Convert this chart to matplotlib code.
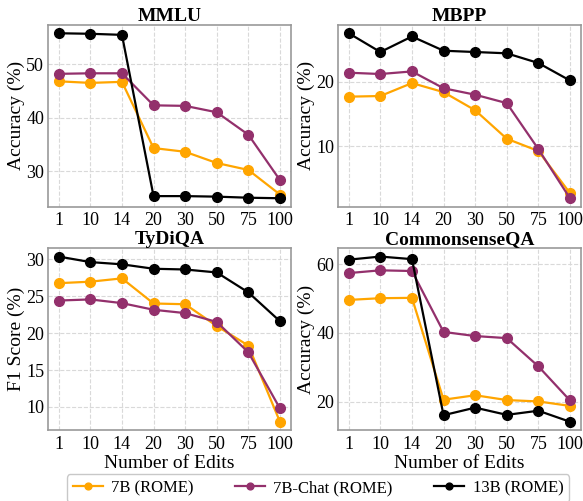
import matplotlib
matplotlib.use("Agg")
import matplotlib.pyplot as plt

plt.rcParams['font.family'] = ['Liberation Serif', 'DejaVu Serif']

edits = ["1", "10", "14", "20", "30", "50", "75", "100"]
series_names = ["7B (ROME)", "7B-Chat (ROME)", "13B (ROME)"]
colors = ["#FFA500", "#93306C", "#000000"]

mmlu_7b = [46.8, 46.5, 46.7, 34.3, 33.6, 31.5, 30.2, 25.6]
mmlu_7bchat = [48.2, 48.3, 48.3, 42.3, 42.2, 41.0, 36.8, 28.3]
mmlu_13b = [55.8, 55.7, 55.5, 25.3, 25.3, 25.2, 25.0, 24.9]

mbpp_7b = [17.7, 17.8, 19.8, 18.4, 15.6, 11.2, 9.3, 2.8]
mbpp_7bchat = [21.4, 21.2, 21.6, 19.0, 18.0, 16.7, 9.6, 2.0]
mbpp_13b = [27.5, 24.6, 27.0, 24.8, 24.6, 24.4, 22.9, 20.2]

tydiqa_7b = [26.75, 26.95, 27.4, 24.0, 23.9, 20.95, 18.3, 8.0]
tydiqa_7bchat = [24.4, 24.55, 24.05, 23.15, 22.7, 21.5, 17.4, 9.8]
tydiqa_13b = [30.35, 29.6, 29.3, 28.7, 28.6, 28.2, 25.5, 21.6]

csqa_7b = [49.6, 50.1, 50.2, 20.6, 21.9, 20.5, 20.1, 18.8]
csqa_7bchat = [57.4, 58.2, 58.0, 40.3, 39.1, 38.5, 30.3, 20.4]
csqa_13b = [61.3, 62.2, 61.45, 16.1, 18.3, 16.2, 17.4, 14.2]

panels = [
    ("MMLU", "Accuracy (%)", [mmlu_7b, mmlu_7bchat, mmlu_13b], [30, 40, 50]),
    ("MBPP", "Accuracy (%)", [mbpp_7b, mbpp_7bchat, mbpp_13b], [10, 20]),
    ("TyDiQA", "F1 Score (%)", [tydiqa_7b, tydiqa_7bchat, tydiqa_13b], [10, 15, 20, 25, 30]),
    ("CommonsenseQA", "Accuracy (%)", [csqa_7b, csqa_7bchat, csqa_13b], [20, 40, 60]),
]

fig = plt.figure(figsize=(5.83, 5.01), dpi=100)
W, H = 583, 501
boxes = [
    (47.7, 25, 291, 206.5),
    (337.7, 25, 581, 206.5),
    (47.7, 248.3, 291, 430),
    (337.7, 248.3, 581, 430),
]
x = list(range(len(edits)))
handles = []
for i, (title, ylabel, data, yt) in enumerate(panels):
    l, t, r, b = boxes[i]
    ax = fig.add_axes([l / W, 1 - b / H, (r - l) / W, (b - t) / H])
    for vals, c, name in zip(data, colors, series_names):
        h, = ax.plot(x, vals, color=c, marker='o', markersize=7, linewidth=1.6, label=name)
        if i == 0:
            handles.append(h)
    ax.set_title(title, fontsize=14, fontweight='bold', pad=3)
    ax.set_ylabel(ylabel, fontsize=14, labelpad=1)
    ax.set_xticks(x)
    ax.set_xticklabels(edits)
    ax.set_yticks(yt)
    ax.tick_params(axis='both', labelsize=13, length=0)
    ax.tick_params(axis='y', pad=2.5)
    ax.tick_params(axis='x', pad=4)
    ax.grid(True, linestyle='--', color='#d9d9d9', linewidth=0.8)
    ax.set_axisbelow(True)
    for s in ax.spines.values():
        s.set_color('#999999')
        s.set_linewidth(1.2)
    if i >= 2:
        ax.set_xlabel("Number of Edits", fontsize=14, labelpad=2)

leg = fig.legend(handles=handles, labels=series_names, loc='center', ncol=3,
                 bbox_to_anchor=(318 / W, 1 - 488 / H), fontsize=12, frameon=True,
                 handlelength=1.8, handletextpad=0.5, columnspacing=2.5,
                 borderpad=0.35, borderaxespad=0, markerscale=0.7)
leg.get_frame().set_edgecolor('#bbbbbb')
leg.get_frame().set_linewidth(1.0)

fig.savefig("out.png", dpi=100)
